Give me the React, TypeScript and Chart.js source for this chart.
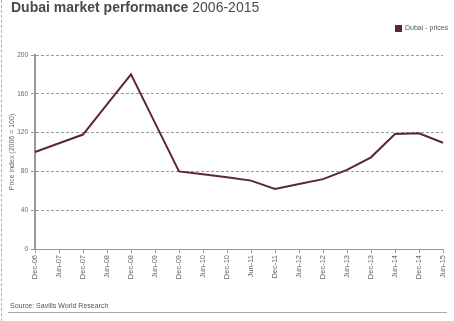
import React, { useEffect, useRef } from "react";
import { Chart, registerables } from "chart.js";

Chart.register(...registerables);

const categories = [
  "Dec-06", "Jun-07", "Dec-07", "Jun-08", "Dec-08", "Jun-09", "Dec-09", "Jun-10", "Dec-10",
  "Jun-11", "Dec-11", "Jun-12", "Dec-12", "Jun-13", "Dec-13", "Jun-14", "Dec-14", "Jun-15",
];
const dubaiPrices = [100, 109, 118, 149, 180, 130, 80, 77, 74, 70.5, 62, 67, 72, 81.5, 94.5, 118.5, 119.3, 109.5];
const seriesName = "Dubai - prices";
const yTitle = "Price index (2006 = 100)";
const titleBold = "Dubai market performance";
const titleRest = " 2006-2015";
const sourceText = "Source: Savills World Research";

const FONT = "'Liberation Sans', Arial, Helvetica, sans-serif";
const LINE = "#5c2343";

export default function App() {
  const ref = useRef<HTMLCanvasElement | null>(null);
  useEffect(() => {
    if (!ref.current) return;
    Chart.defaults.font.family = FONT;
    const chart = new Chart(ref.current, {
      type: "line",
      data: {
        labels: categories,
        datasets: [
          {
            label: seriesName,
            data: dubaiPrices,
            borderColor: LINE,
            backgroundColor: LINE,
            borderWidth: 2,
            pointRadius: 0,
            tension: 0,
          },
        ],
      },
      options: {
        animation: false,
        responsive: false,
        maintainAspectRatio: false,
        layout: { padding: { top: 55, right: 7, bottom: 42, left: 0 } },
        plugins: { legend: { display: false }, tooltip: { enabled: false } },
        scales: {
          x: {
            offset: false,
            afterFit: (s: any) => {
              s.height = 30;
            },
            grid: {
              display: true,
              drawOnChartArea: false,
              drawTicks: true,
              tickLength: 4,
              color: "#999",
              tickBorderDash: [],
            },
            border: { display: true, color: "#999", width: 1 },
            ticks: {
              autoSkip: false,
              minRotation: 90,
              maxRotation: 90,
              padding: 2,
              color: "#666",
              font: { size: 7.5, family: FONT },
            },
          },
          y: {
            min: 0,
            max: 200,
            afterFit: (s: any) => {
              s.width = 35;
            },
            grid: {
              color: "#9a9a9a",
              lineWidth: 1,
              drawTicks: true,
              tickLength: 4,
              tickColor: "#999",
              tickBorderDash: [],
            },
            border: { display: true, color: "#999", width: 2, dash: [3, 2] },
            ticks: {
              stepSize: 40,
              padding: 3,
              color: "#666",
              font: { size: 6.5, family: FONT },
            },
            title: {
              display: true,
              text: yTitle,
              color: "#666",
              padding: { top: 8, bottom: 0 },
              font: { size: 7, family: FONT },
            },
          },
        },
      },
    });
    return () => chart.destroy();
  }, []);

  return (
    <div style={{ position: "absolute", left: 0, top: 0, width: 454, height: 321, background: "#fff", fontFamily: FONT, overflow: "hidden" }}>
      <div style={{ position: "absolute", left: 1, top: 0, height: 321, borderLeft: "1px dashed #b0b0b0" }} />
      <canvas ref={ref} width={454} height={321} style={{ position: "absolute", left: 0, top: 0 }} />
      <div style={{ position: "absolute", left: 11, top: -1, fontSize: 14, color: "#4a4a4a", whiteSpace: "nowrap" }}>
        <span style={{ fontWeight: "bold" }}>{titleBold}</span>
        <span>{titleRest}</span>
      </div>
      <div style={{ position: "absolute", left: 395, top: 25, width: 7, height: 7, background: LINE }} />
      <div style={{ position: "absolute", left: 405, top: 24, fontSize: 7, color: "#555", whiteSpace: "nowrap" }}>{seriesName}</div>
      <div style={{ position: "absolute", left: 10, top: 302, fontSize: 7, color: "#555", whiteSpace: "nowrap" }}>{sourceText}</div>
      <div style={{ position: "absolute", left: 8, top: 312, width: 439, height: 0, borderTop: "1.5px solid #aaa" }} />
    </div>
  );
}
